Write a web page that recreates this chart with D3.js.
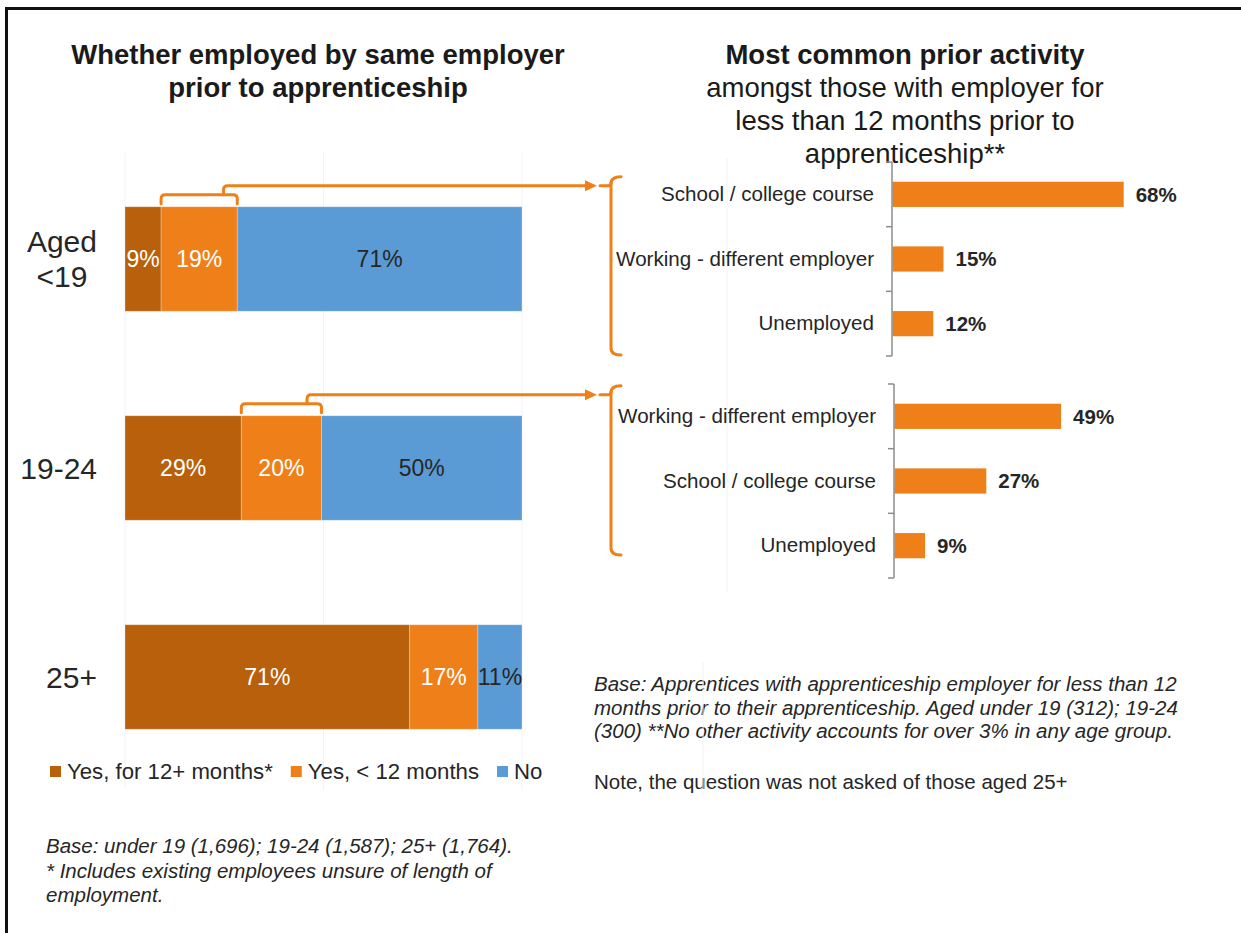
<!DOCTYPE html>
<html><head><meta charset="utf-8">
<script src="https://cdn.jsdelivr.net/npm/d3@7"></script>
<style>
html,body{margin:0;padding:0;background:#fff;overflow:hidden;width:1241px;height:933px;}
svg{display:block;font-family:"Liberation Sans",Arial,sans-serif;}
</style></head><body>
<svg id="chart" width="1241" height="933"></svg>
<script>
// ---- Left panel: whether employed by same employer, by age group ----
const ageGroups = ["Aged <19", "19-24", "25+"];
const ageLabelLines = [["Aged", "<19"], ["19-24"], ["25+"]];
const seriesNames = ["Yes, for 12+ months*", "Yes, < 12 months", "No"];
const yesOver12 = [9, 29, 71];
const yesUnder12 = [19, 20, 17];
const notEmployed = [71, 50, 11];

// ---- Right panel: most common prior activity (with employer < 12 months) ----
const activityUnder19 = ["School / college course", "Working - different employer", "Unemployed"];
const valuesUnder19 = [68, 15, 12];
const activity19to24 = ["Working - different employer", "School / college course", "Unemployed"];
const values19to24 = [49, 27, 9];

const leftTitle = ["Whether employed by same employer", "prior to apprenticeship"];
const rightTitle = ["Most common prior activity", "amongst those with employer for", "less than 12 months prior to", "apprenticeship**"];
const leftNotes = ["Base: under 19 (1,696); 19-24 (1,587); 25+ (1,764).", "* Includes existing employees unsure of length of", "employment."];
const rightNotes = ["Base: Apprentices with apprenticeship employer for less than 12", "months prior to their apprenticeship. Aged under 19 (312); 19-24", "(300) **No other activity accounts for over 3% in any age group."];
const rightNote2 = "Note, the question was not asked of those aged 25+";

const colors = ["#B8600C", "#EF8019", "#5B9BD5"];
const labelColors = ["#ffffff", "#ffffff", "#262626"];
const orange = "#EF8019";
const textColor = "#262626";

const svg = d3.select("#chart");

// frame (open towards the right and bottom edges)
svg.append("path").attr("d", "M1260,8.5 L6.5,8.5 L6.5,950")
  .attr("fill", "none").attr("stroke", "#111").attr("stroke-width", 3);

// ---------- titles ----------
const lt = svg.append("text").attr("text-anchor", "middle").attr("font-size", 27.5)
  .attr("font-weight", "bold").attr("fill", "#1a1a1a");
leftTitle.forEach((s, i) => lt.append("tspan").attr("x", 318).attr("y", 64 + i * 33).text(s));
const rt = svg.append("text").attr("text-anchor", "middle").attr("font-size", 27.5).attr("fill", "#1a1a1a");
rightTitle.forEach((s, i) => rt.append("tspan").attr("x", 905).attr("y", 64 + i * 33)
  .attr("font-weight", i === 0 ? "bold" : "normal").text(s));

// ---------- left stacked bars ----------
const stackData = ageGroups.map((g, i) => {
  const vals = [yesOver12[i], yesUnder12[i], notEmployed[i]];
  const total = d3.sum(vals);
  let acc = 0;
  return vals.map((v, k) => {
    const seg = { group: g, idx: i, series: k, value: v, x0: acc / total, x1: (acc + v) / total };
    acc += v;
    return seg;
  });
});

const xL = d3.scaleLinear().domain([0, 1]).range([125, 522]);
const yL = d3.scaleBand().domain(ageGroups).range([154.5, 781.5]).paddingInner(0.5).paddingOuter(0.25);

// faint gridlines
svg.append("g").selectAll("line").data([0, 0.5, 1]).join("line")
  .attr("x1", d => xL(d)).attr("x2", d => xL(d)).attr("y1", 153).attr("y2", 790)
  .attr("stroke", "#f3f3f3").attr("stroke-width", 1);

const segs = stackData.flat();
svg.append("g").selectAll("rect").data(segs).join("rect")
  .attr("x", d => xL(d.x0)).attr("y", d => yL(d.group))
  .attr("width", d => xL(d.x1) - xL(d.x0)).attr("height", yL.bandwidth())
  .attr("fill", d => colors[d.series])
  .attr("stroke", "#ffffff").attr("stroke-opacity", 0.35).attr("stroke-width", 0.8);

svg.append("g").selectAll("text").data(segs).join("text")
  .attr("x", d => (xL(d.x0) + xL(d.x1)) / 2)
  .attr("y", d => yL(d.group) + yL.bandwidth() / 2)
  .attr("dy", "0.36em").attr("text-anchor", "middle").attr("font-size", 23)
  .attr("fill", d => labelColors[d.series]).text(d => d.value + "%");

// category labels (right-aligned block, lines centred within block)
ageGroups.forEach((g, i) => {
  const lines = ageLabelLines[i];
  const cy = yL(g) + yL.bandwidth() / 2;
  const t = svg.append("text").attr("font-size", 30).attr("fill", textColor).attr("text-anchor", "middle");
  const spans = lines.map((s, j) => t.append("tspan")
    .attr("y", cy + (j - (lines.length - 1) / 2) * 35).attr("dy", "0.36em").text(s));
  const w = d3.max(spans, sp => sp.node().getComputedTextLength());
  spans.forEach(sp => sp.attr("x", 97 - w / 2));
});

// legend
let lx = 50;
seriesNames.forEach((s, k) => {
  svg.append("rect").attr("x", lx).attr("y", 766).attr("width", 11).attr("height", 11).attr("fill", colors[k]);
  const t = svg.append("text").attr("x", lx + 17).attr("y", 779).attr("font-size", 22.2)
    .attr("fill", textColor).text(s);
  lx += 17 + t.node().getComputedTextLength() + 18;
});

// footnotes
const ln = svg.append("text").attr("font-size", 20.5).attr("font-style", "italic").attr("fill", textColor);
leftNotes.forEach((s, i) => ln.append("tspan").attr("x", 46).attr("y", 853 + i * 24.5).text(s));
const rn = svg.append("text").attr("font-size", 20.5).attr("font-style", "italic").attr("fill", textColor);
rightNotes.forEach((s, i) => rn.append("tspan").attr("x", 594).attr("y", 691 + i * 23.5).text(s));
svg.append("text").attr("x", 594).attr("y", 789).attr("font-size", 20.5).attr("fill", textColor).text(rightNote2);

// faint panel edges
svg.append("line").attr("x1", 727).attr("x2", 727).attr("y1", 158).attr("y2", 592)
  .attr("stroke", "#f2f2f2").attr("stroke-width", 1);
svg.append("line").attr("x1", 703).attr("x2", 703).attr("y1", 662).attr("y2", 796)
  .attr("stroke", "#f2f2f2").attr("stroke-width", 1);

// ---------- right bar charts ----------
function activityChart(cats, vals, axisX, top, bottom) {
  const x = d3.scaleLinear().domain([0, 100]).range([axisX + 0.5, axisX + 0.5 + 340]);
  const y = d3.scaleBand().domain(cats).range([top, bottom]).paddingInner(0.61).paddingOuter(0.305);
  const g = svg.append("g");
  const data = cats.map((c, i) => ({ cat: c, value: vals[i] }));
  g.selectAll("rect").data(data).join("rect")
    .attr("x", x(0)).attr("y", d => y(d.cat)).attr("width", d => x(d.value) - x(0))
    .attr("height", y.bandwidth()).attr("fill", orange);
  g.selectAll("text.val").data(data).join("text").attr("class", "val")
    .attr("x", d => x(d.value) + 12).attr("y", d => y(d.cat) + y.bandwidth() / 2).attr("dy", "0.36em")
    .attr("font-size", 20.5).attr("font-weight", "bold").attr("fill", textColor)
    .text(d => d.value + "%");
  // category axis with ticks between categories
  const axis = g.append("g").attr("transform", `translate(${axisX},0)`)
    .call(d3.axisLeft(y).tickSize(0).tickPadding(18));
  axis.select(".domain").remove();
  axis.selectAll("text").attr("font-size", 20.6).attr("fill", textColor).attr("font-family", null);
  const step = y.step();
  const bounds = d3.range(cats.length + 1).map(i => top + i * step);
  g.append("line").attr("x1", axisX).attr("x2", axisX).attr("y1", top).attr("y2", bottom)
    .attr("stroke", "#8c8c8c").attr("stroke-width", 1.5);
  g.selectAll("line.tick").data(bounds).join("line").attr("class", "tick")
    .attr("x1", axisX - 6).attr("x2", axisX).attr("y1", d => d).attr("y2", d => d)
    .attr("stroke", "#8c8c8c").attr("stroke-width", 1.5);
  return { x, y };
}
activityChart(activityUnder19, valuesUnder19, 892, 162, 356);
activityChart(activity19to24, values19to24, 894, 384, 578);

// ---------- connectors from "< 12 months" segments to the activity charts ----------
function connector(ageIdx, braceBottom) {
  const seg = stackData[ageIdx][1];
  const x0 = xL(seg.x0), x1 = xL(seg.x1);
  const barTop = yL(seg.group);
  const yt = barTop - 12, yb = barTop - 3, ya = barTop - 21, r = 4;
  const xt = x0 + 0.82 * (x1 - x0);
  const tip = 597;
  const g = svg.append("g").attr("fill", "none").attr("stroke", orange).attr("stroke-width", 3)
    .attr("stroke-linecap", "round").attr("stroke-linejoin", "round");
  g.append("path").attr("d",
    `M${x0},${yb} L${x0},${yt + r} Q${x0},${yt} ${x0 + r},${yt} L${x1 - r},${yt} Q${x1},${yt} ${x1},${yt + r} L${x1},${yb}`);
  g.append("path").attr("d",
    `M${xt},${yt} L${xt},${ya + r} Q${xt},${ya} ${xt + r},${ya} L${tip - 9},${ya}`);
  svg.append("path").attr("d", `M${tip},${ya} L${tip - 12},${ya - 5.5} L${tip - 12},${ya + 5.5} Z`).attr("fill", orange);
  // brace
  const bx = 611, bTop = ya - 9;
  g.append("path").attr("d",
    `M${bx + 10},${bTop} Q${bx},${bTop} ${bx},${bTop + 7} L${bx},${braceBottom - 7} Q${bx},${braceBottom} ${bx + 10},${braceBottom}`);
  g.append("path").attr("d", `M${bx - 11},${ya} L${bx - 3},${ya} Q${bx},${ya} ${bx},${ya - 3}`);
}
connector(0, 355);
connector(1, 555);
</script>
</body></html>
